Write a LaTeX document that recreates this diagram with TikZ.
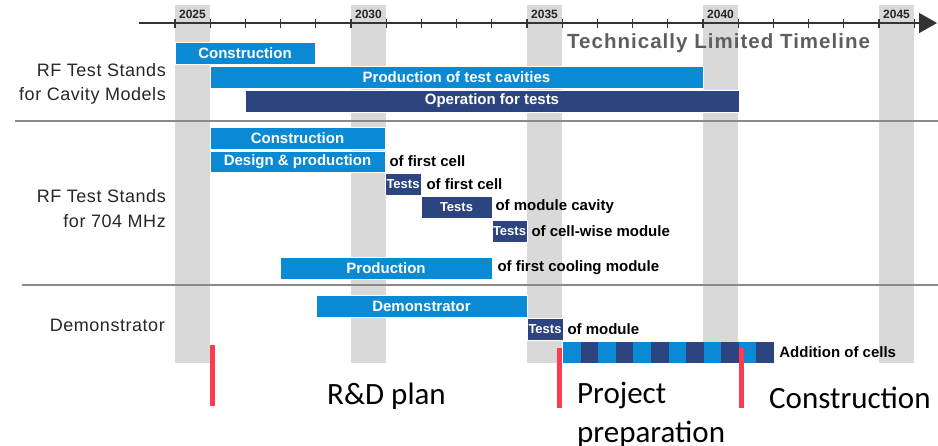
\documentclass[tikz,border=0pt]{standalone}
\usepackage{fontspec}
\setmainfont{Liberation Sans}
\newfontfamily\labfont[LetterSpace=3]{Liberation Sans}
\newfontfamily\tlfont[LetterSpace=5]{Liberation Sans}
\newfontfamily\calfont{Carlito}
\usetikzlibrary{arrows.meta}
\definecolor{lblue}{HTML}{0A8AD4}
\definecolor{dblue}{HTML}{2C4580}
\definecolor{colgrey}{HTML}{D9D9D9}
\definecolor{redmark}{HTML}{FF3B50}
\definecolor{tlgrey}{HTML}{5E5E5E}
\definecolor{sepgrey}{HTML}{8A8A8A}
\tikzset{
 barbase/.style={inner sep=0pt, draw=white, line width=0.6pt, text=white, font=\fontsize{15}{18}\selectfont\bfseries},
 lbar/.style={barbase, fill=lblue},
 dbar/.style={barbase, fill=dblue},
 tbar/.style={dbar, font=\fontsize{13}{15}\selectfont\bfseries},
 note/.style={anchor=west, inner sep=0pt, text=black, font=\fontsize{15}{18}\selectfont\bfseries},
 rowlab/.style={align=right, anchor=base east, inner sep=0pt, text=black!85, font=\labfont\fontsize{18}{24.5}\selectfont},
 yearlab/.style={inner sep=0pt, font=\fontsize{12}{14}\selectfont\bfseries, text=black!85},
 column/.style={fill=colgrey, draw=none},
 axisline/.style={draw=black!80, line width=1.4pt, -{Triangle[length=18pt,width=20pt]}},
 tickmark/.style={draw=black!80, line width=1.2pt},
 sepline/.style={draw=sepgrey, line width=1.2pt},
 redmarkline/.style={draw=redmark, line width=5pt},
 phase/.style={inner sep=0pt, anchor=base west, align=left, font=\calfont\fontsize{31}{39}\selectfont},
}
\newcommand\gbar[7]{\node[#6, minimum width=#3pt-#2pt, minimum height=#5pt-#4pt] (#1) at ({(#2+#3)/2},{(#4+#5)/2}) {#7};}
\begin{document}
\begin{tikzpicture}[x=1pt,y=-1pt]
\useasboundingbox (0,0) rectangle (938,445);
% grey year columns
\foreach \yr/\xx in {2025/175,2030/351,2035/527,2040/703,2045/879}{
  \fill[column] (\xx,5) rectangle ++(35,358);
  \node[yearlab] (y\yr) at ({\xx+17.5},14) {\yr};
}
% separators
\coordinate (s1a) at (15,121); \coordinate (s1b) at (938,121);
\coordinate (s2a) at (22,285); \coordinate (s2b) at (938,285);
\draw[sepline] (s1a) -- (s1b);
\draw[sepline] (s2a) -- (s2b);
% axis
\coordinate (axs) at (139,23); \coordinate (axe) at (937,23);
\draw[axisline] (axs) -- (axe);
\foreach \k in {0,...,21}{
  \draw[tickmark] ({175+\k*35.2},19) -- ({175+\k*35.2},28);
}
\node[anchor=base west, inner sep=0pt, text=tlgrey, font=\tlfont\fontsize{20.5}{24}\selectfont\bfseries] (tl) at (567,48) {Technically Limited Timeline};
% row labels
\node[rowlab] (lab1) at (166,100.5) {RF Test Stands\\for Cavity Models};
\node[rowlab] (lab2) at (166,227) {RF Test Stands\\for 704 MHz};
\node[rowlab] (lab3) at (165,331) {Demonstrator};
% section 1
\gbar{a1}{175}{315}{42}{64}{lbar}{Construction}
\gbar{a2}{210}{703}{66}{88}{lbar}{Production of test cavities}
\gbar{a3}{245}{739}{90}{112}{dbar}{Operation for tests}
% section 2
\gbar{b1}{210}{385}{127}{149}{lbar}{Construction}
\gbar{b2}{210}{385}{151}{172}{lbar}{Design \& production}
\gbar{b3}{385}{421}{173}{195}{tbar}{Tests}
\gbar{b4}{421}{492}{196}{218}{tbar}{Tests}
\gbar{b5}{492}{527}{220}{242}{tbar}{Tests}
\gbar{b6}{280}{492}{257}{279}{lbar}{Production}
\node[note] (nb2) at ([xshift=4pt]b2.east) {of first cell};
\node[note] (nb3) at ([xshift=5pt]b3.east) {of first cell};
\node[note] (nb4) at ([xshift=3pt]b4.east) {of module cavity};
\node[note] (nb5) at ([xshift=4pt]b5.east) {of cell-wise module};
\node[note] (nb6) at ([xshift=5pt]b6.east) {of first cooling module};
% section 3
\gbar{c1}{316}{527}{295}{317}{lbar}{Demonstrator}
\gbar{c2}{527}{563}{318}{340}{tbar}{Tests}
\node[note] (nc2) at ([xshift=4pt]c2.east) {of module};
\node[inner sep=0pt, fill=lblue, minimum width=211pt, minimum height=21pt] (c3) at (668.5,352.5) {};
\foreach \i in {1,3,...,11}{
  \fill[dblue] ({563+\i*17.583},342) rectangle ++(17.583,21);
}
\node[note] (nc3) at ([xshift=5pt]c3.east) {Addition of cells};
% phase markers
\coordinate (r1a) at (212.5,345); \coordinate (r1b) at (212.5,406);
\coordinate (r2a) at (559,348); \coordinate (r2b) at (559,408);
\coordinate (r3a) at (741,348); \coordinate (r3b) at (741,408);
\draw[redmarkline] (r1a) -- (r1b);
\draw[redmarkline] (r2a) -- (r2b);
\draw[redmarkline] (r3a) -- (r3b);
\node[phase] (p1) at (327,404) {R\&D plan};
\node[phase] (p2) at (577,442) {Project\\preparation};
\node[phase] (p3) at (769,408) {Construction};
\end{tikzpicture}
\end{document}
